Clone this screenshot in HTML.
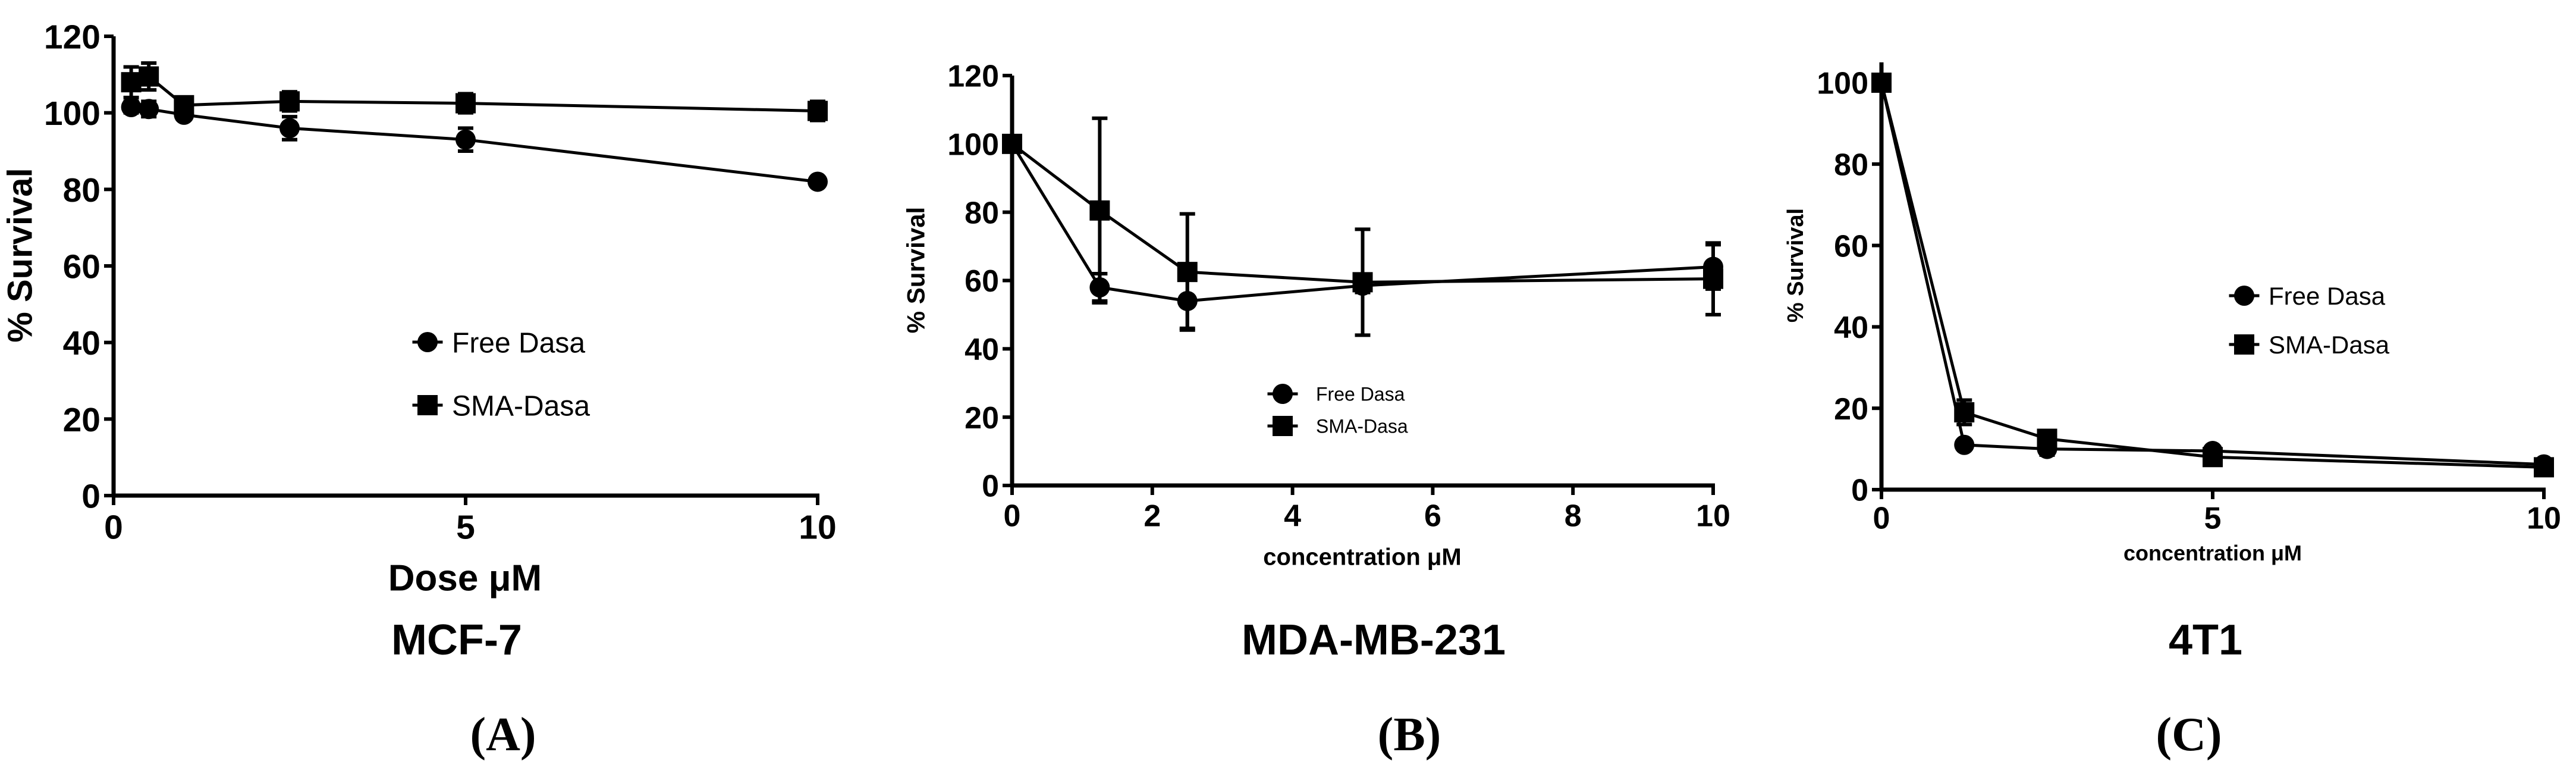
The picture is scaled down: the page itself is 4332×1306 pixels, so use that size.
<!DOCTYPE html>
<html><head><meta charset="utf-8">
<style>
html,body{margin:0;padding:0;background:#fff;}
svg{display:block;}
text{font-family:"Liberation Sans",Arial,sans-serif;fill:#000;}
</style></head>
<body>
<svg id="fig" width="4332" height="1306" viewBox="0 0 4332 1306" xmlns="http://www.w3.org/2000/svg"></svg>
<script>
// Panel A (MCF-7)
const aDoses = [0.25, 0.5, 1, 2.5, 5, 10];
const aFree = [101.5, 101, 99.5, 96, 93, 82];
const aFreeErr = [1.5, 2, 1, 3, 3, 1];
const aSma = [108, 109.5, 102, 103, 102.5, 100.5];
const aSmaErr = [4, 3.5, 2, 2.5, 2.5, 2.5];
const aXTicks = [0, 5, 10];
const aYTicks = [0, 20, 40, 60, 80, 100, 120];
// Panel B (MDA-MB-231)
const bDoses = [0, 1.25, 2.5, 5, 10];
const bFree = [100, 58, 54, 58.5, 64];
const bFreeErr = [1, 4, 8, 2, 6.5];
const bSma = [100, 80.5, 62.5, 59.5, 60.5];
const bSmaErr = [1, 27, 17, 15.5, 10.5];
const bXTicks = [0, 2, 4, 6, 8, 10];
const bYTicks = [0, 20, 40, 60, 80, 100, 120];
// Panel C (4T1)
const cDoses = [0, 1.25, 2.5, 5, 10];
const cFree = [100, 11, 10, 9.5, 6.2];
const cFreeErr = [1, 1, 1.5, 1, 1];
const cSma = [100, 19, 12.5, 8, 5.5];
const cSmaErr = [1, 3, 2, 1, 1];
const cXTicks = [0, 5, 10];
const cYTicks = [0, 20, 40, 60, 80, 100];

const NS = 'http://www.w3.org/2000/svg';
const svg = document.getElementById('fig');
function mk(tag, attrs, parent, txt) {
  const e = document.createElementNS(NS, tag);
  for (const k in attrs) e.setAttribute(k, attrs[k]);
  if (txt !== undefined) e.textContent = txt;
  (parent || svg).appendChild(e);
  return e;
}

function panel(p) {
  const g = mk('g', {});
  
  
  const sx = v => p.x0 + (v - p.xmin) / (p.xmax - p.xmin) * (p.x1 - p.x0);
  const sy = v => p.y0 - (v - 0) / p.ymax * (p.y0 - p.y1);
  const ya = mk('line', {x1: p.x0, y1: p.y0 + 3, x2: p.x0, y2: sy(p.yTop), stroke: '#000', 'stroke-width': 7}, g);
  
  
  const xa = mk('line', {x1: p.x0 - 3, y1: p.y0, x2: p.x1 + 3, y2: p.y0, stroke: '#000', 'stroke-width': 7}, g);
  
  
  p.yTicks.forEach(t => {
    mk('line', {x1: p.x0 - 16, y1: sy(t), x2: p.x0, y2: sy(t), stroke: '#000', 'stroke-width': 6}, g);
    const tl = mk('text', {x: p.x0 - 22, y: sy(t) + p.tickFs * 0.36, 'text-anchor': 'end', 'font-size': p.tickFs, 'font-weight': 'bold'}, g, t);
    
    
  });
  p.xTicks.forEach(t => {
    mk('line', {x1: sx(t), y1: p.y0, x2: sx(t), y2: p.y0 + 16, stroke: '#000', 'stroke-width': 6}, g);
    const tl = mk('text', {x: sx(t), y: p.xTickY + p.tickFs * 0.36, 'text-anchor': 'middle', 'font-size': p.tickFs, 'font-weight': 'bold'}, g, t);
    
    
  });
  const series = [
    {vals: p.free, err: p.freeErr, shape: 'circle', name: 'free-dasa'},
    {vals: p.sma, err: p.smaErr, shape: 'square', name: 'sma-dasa'}
  ];
  series.forEach(s => {
    const pts = p.doses.map((d, i) => sx(d) + ',' + sy(s.vals[i])).join(' ');
    const l = mk('polyline', {points: pts, fill: 'none', stroke: '#000', 'stroke-width': 5}, g);
    
    
    p.doses.forEach((d, i) => {
      const cx = sx(d), cy = sy(s.vals[i]), e = s.err[i];
      if (e > 1.2) {
        const eb = mk('path', {d: `M${cx},${sy(s.vals[i] + e)}V${sy(s.vals[i] - e)}M${cx - 13},${sy(s.vals[i] + e)}h26M${cx - 13},${sy(s.vals[i] - e)}h26`, stroke: '#000', 'stroke-width': 6, fill: 'none'}, g);
        
        
      }
      let m;
      if (s.shape === 'circle') m = mk('circle', {cx: cx, cy: cy, r: p.ms / 2, fill: '#000'}, g);
      else m = mk('rect', {x: cx - p.ms / 2, y: cy - p.ms / 2, width: p.ms, height: p.ms, fill: '#000'}, g);
      
      
    });
  });
  [['circle', 'Free Dasa', p.legY1, 'free-dasa'], ['square', 'SMA-Dasa', p.legY2, 'sma-dasa']].forEach(([sh, lab, ly, nm]) => {
    const lg = mk('g', {}, g);
    
    
    mk('line', {x1: p.legX - p.ms * 0.75, y1: ly, x2: p.legX + p.ms * 0.75, y2: ly, stroke: '#000', 'stroke-width': 5}, lg);
    if (sh === 'circle') mk('circle', {cx: p.legX, cy: ly, r: p.ms / 2, fill: '#000'}, lg);
    else mk('rect', {x: p.legX - p.ms / 2, y: ly - p.ms / 2, width: p.ms, height: p.ms, fill: '#000'}, lg);
    mk('text', {x: p.legTX, y: ly + p.legFs * 0.36, 'font-size': p.legFs, fill: '#111'}, lg, lab);
  });
  const yt = mk('text', {x: 0, y: 0, transform: `translate(${p.yTitleX},${p.yTitleY}) rotate(-90)`, 'text-anchor': 'middle', 'font-size': p.yTitleFs, 'font-weight': 'bold', 'dominant-baseline': 'central'}, g, '% Survival');
  
  
  const xt = mk('text', {x: p.xTitleX, y: p.xTitleY + p.xTitleFs * 0.36, 'text-anchor': 'middle', 'font-size': p.xTitleFs, 'font-weight': 'bold'}, g, p.xTitle);
  
  
  const ct = mk('text', {x: p.cellX, y: 1075 + 25, 'text-anchor': 'middle', 'font-size': 72, 'font-weight': 'bold'}, g, p.cell);
  
  
  const pl = mk('text', {x: p.letX, y: 1233 + 28, 'text-anchor': 'middle', 'font-size': 80, 'font-weight': 'bold', style: 'font-family:"Liberation Serif",serif'}, g, p.letter);
  
  
}

panel({id: 'panel-a', x0: 191, x1: 1375, y0: 833, y1: 61, xmin: 0, xmax: 10, ymax: 120, yTop: 120,
  doses: aDoses, free: aFree, freeErr: aFreeErr, sma: aSma, smaErr: aSmaErr, xTicks: aXTicks, yTicks: aYTicks,
  tickFs: 57, xTickY: 885, ms: 34, legX: 719, legTX: 760, legY1: 575, legY2: 681, legFs: 48,
  yTitleX: 34, yTitleY: 429, yTitleFs: 58, xTitle: 'Dose μM', xTitleX: 782, xTitleY: 970, xTitleFs: 62,
  cell: 'MCF-7', cellX: 768, letter: '(A)', letX: 846});
panel({id: 'panel-b', x0: 1702, x1: 2881, y0: 816, y1: 127, xmin: 0, xmax: 10, ymax: 120, yTop: 120,
  doses: bDoses, free: bFree, freeErr: bFreeErr, sma: bSma, smaErr: bSmaErr, xTicks: bXTicks, yTicks: bYTicks,
  tickFs: 52, xTickY: 866, ms: 34, legX: 2157, legTX: 2213, legY1: 662, legY2: 716, legFs: 32,
  yTitleX: 1540, yTitleY: 454, yTitleFs: 42, xTitle: 'concentration μM', xTitleX: 2291, xTitleY: 935, xTitleFs: 40,
  cell: 'MDA-MB-231', cellX: 2310, letter: '(B)', letX: 2370});
panel({id: 'panel-c', x0: 3164, x1: 4278, y0: 823, y1: 139, xmin: 0, xmax: 10, ymax: 100, yTop: 105,
  doses: cDoses, free: cFree, freeErr: cFreeErr, sma: cSma, smaErr: cSmaErr, xTicks: cXTicks, yTicks: cYTicks,
  tickFs: 52, xTickY: 870, ms: 34, legX: 3774, legTX: 3815, legY1: 497, legY2: 579, legFs: 42,
  yTitleX: 3020, yTitleY: 446, yTitleFs: 38, xTitle: 'concentration μM', xTitleX: 3721, xTitleY: 929, xTitleFs: 36,
  cell: '4T1', cellX: 3709, letter: '(C)', letX: 3681});
</script>
</body></html>
